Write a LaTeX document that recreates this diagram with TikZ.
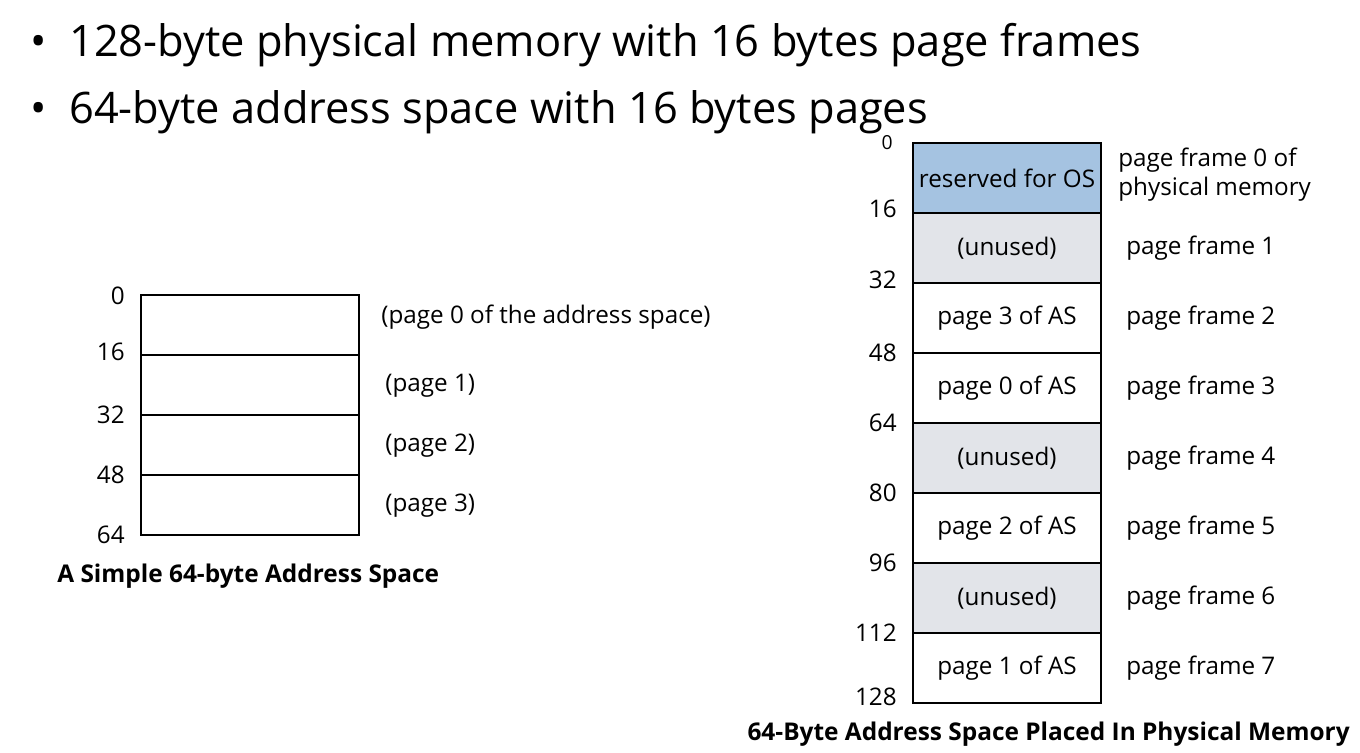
\documentclass[tikz,border=0pt]{standalone}
\usepackage{fontspec}
\setmainfont{Open Sans}
\definecolor{osblue}{RGB}{165,195,225}
\definecolor{unusedgray}{RGB}{226,228,233}
\tikzset{
  bullet/.style={anchor=west, inner sep=0pt, font=\fontsize{24.7}{29}\selectfont},
  ascell/.style={draw, line width=0.8pt, minimum width=4.36cm, minimum height=1.2cm, inner sep=0pt},
  pmcell/.style={draw, line width=0.8pt, minimum width=3.76cm, minimum height=1.4cm, inner sep=0pt,
    font=\fontsize{13.8}{16}\selectfont},
  addr/.style={anchor=east, inner sep=0pt, font=\fontsize{13.8}{16}\selectfont},
  lbl/.style={anchor=west, inner sep=0pt, font=\fontsize{13.8}{16.5}\selectfont},
  caption/.style={inner sep=0pt, font=\fontsize{13.9}{16}\selectfont\bfseries}
}
\begin{document}
\begin{tikzpicture}[x=0.02cm, y=-0.02cm]
\useasboundingbox (0,0) rectangle (1360,752);

% bullets
\node[bullet] (b1) at (30,45) {\textbullet\ \ 128-byte physical memory with 16 bytes page frames};
\node[bullet] (b2) at (30,112) {\textbullet\ \ 64-byte address space with 16 bytes pages};

% address space
\foreach \i in {0,...,3}
  \node[ascell] (as\i) at (250,325+60*\i) {};
\node[addr] (asa0) at (125,296) {0};
\node[addr] (asa1) at (125,352) {16};
\node[addr] (asa2) at (125,415) {32};
\node[addr] (asa3) at (125,475) {48};
\node[addr] (asa4) at (125,535) {64};
\node[lbl] (asl0) at (381,317) {(page 0 of the address space)};
\node[lbl] (asl1) at (385,386) {(page 1)};
\node[lbl] (asl2) at (385,446) {(page 2)};
\node[lbl] (asl3) at (385,506) {(page 3)};
\node[caption, anchor=west] (ascap) at (57,576) {A Simple 64-byte Address Space};

% physical memory
\node[pmcell, fill=osblue] (pm0) at (1007,178) {reserved for OS};
\node[pmcell, fill=unusedgray] (pm1) at (1007,248) {(unused)};
\node[pmcell] (pm2) at (1007,318) {page 3 of AS};
\node[pmcell] (pm3) at (1007,388) {page 0 of AS};
\node[pmcell, fill=unusedgray] (pm4) at (1007,458) {(unused)};
\node[pmcell] (pm5) at (1007,528) {page 2 of AS};
\node[pmcell, fill=unusedgray] (pm6) at (1007,598) {(unused)};
\node[pmcell] (pm7) at (1007,668) {page 1 of AS};

\node[addr, font=\fontsize{11}{13}\selectfont] (pma0) at (893,143) {0};
\node[addr] (pma1) at (897,209) {16};
\node[addr] (pma2) at (897,280) {32};
\node[addr] (pma3) at (897,353) {48};
\node[addr] (pma4) at (897,423) {64};
\node[addr] (pma5) at (897,493) {80};
\node[addr] (pma6) at (897,563) {96};
\node[addr] (pma7) at (897,633) {112};
\node[addr] (pma8) at (897,697) {128};

\node[lbl, align=left] (pml0) at (1118,175) {page frame 0 of\\physical memory};
\foreach \i in {1,...,7}
  \node[lbl] (pml\i) at (1126,178+70*\i) {page frame \i};
\node[caption, anchor=east] (pmcap) at (1350,734) {64-Byte Address Space Placed In Physical Memory};
\end{tikzpicture}
\end{document}
